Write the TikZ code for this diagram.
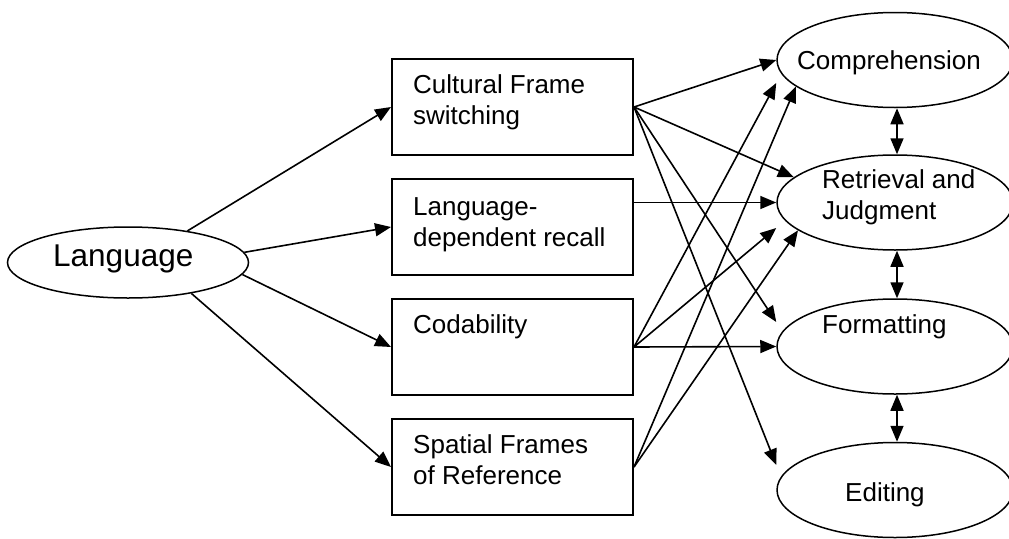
\documentclass[tikz,border=0pt]{standalone}
\usepackage{fontspec}
\setmainfont{Liberation Sans}
\usetikzlibrary{shapes.geometric,arrows.meta}
\begin{document}
\begin{tikzpicture}[x=1pt,y=-1pt,
        box/.style={draw,line width=2pt,minimum width=241pt,minimum height=96pt,inner sep=0pt},
        oval/.style={draw,ellipse,line width=1.5pt,minimum width=236pt,minimum height=95pt,inner sep=0pt},
        lbl/.style={font=\fontsize{26}{31}\selectfont,inner sep=0pt,anchor=north west,align=left},
        arr/.style={line width=1.6pt,-{Triangle[length=16pt,width=13pt]}},
        dbl/.style={line width=1.6pt,{Triangle[length=16pt,width=13pt]}-{Triangle[length=16pt,width=13pt]}}]
        \useasboundingbox (0,0) rectangle (1009,538);
        %% language
        \node[draw,ellipse,line width=1.5pt,minimum width=241pt,minimum height=71pt,inner sep=0pt] (lang) at (128,262.5) {};
        \node[font=\fontsize{31.5}{36}\selectfont,inner sep=0pt,anchor=base west] (lang-t) at (53,266) {Language};
        %% boxes
        \node[box] (cfs) at (512.5,107) {};
        \node[box] (ldr) at (512.5,227) {};
        \node[box] (cod) at (512.5,347) {};
        \node[box] (sfr) at (512.5,467) {};
        \node[lbl] (cfs-t) at (413,71.3) {\strut Cultural Frame\\switching};
        \node[lbl] (ldr-t) at (413,193.3) {\strut Language-\\dependent recall};
        \node[lbl] (cod-t) at (413,311.3) {\strut Codability};
        \node[lbl] (sfr-t) at (413,431.3) {\strut Spatial Frames\\of Reference};
        %% stages
        \node[oval] (comp) at (895,60) {};
        \node[oval] (rj) at (895,202.5) {};
        \node[oval] (fmt) at (895,346.5) {};
        \node[oval] (edit) at (895,490) {};
        \node[lbl] (comp-t) at (797,47.3) {\strut Comprehension};
        \node[lbl] (rj-t) at (822,166.3) {\strut Retrieval and\\Judgment};
        \node[lbl] (fmt-t) at (822,311.3) {\strut Formatting};
        \node[lbl] (edit-t) at (845,479.3) {\strut Editing};
        %% arrows
        \foreach \a/\b in {28/cfs,5/ldr,354/cod,334/sfr} \draw[arr] (lang.\a) -- (\b.west);
        \draw[arr] (cfs.east) -- (comp.west);
        \draw[arr] (cfs.east) -- (rj.166);
        \draw[arr] (cfs.east) -- ([yshift=24.5pt]fmt.west);
        \draw[arr] (cfs.east) -- ([yshift=25pt]edit.west);
        \draw[arr] (ldr.east |- rj.west) -- (rj.west);
        \draw[arr] (cod.east) -- ([yshift=-23pt]comp.west);
        \draw[arr] (cod.east) -- ([yshift=-25.5pt]rj.west);
        \draw[arr] (cod.east) -- (fmt.west);
        \draw[arr] (sfr.east) -- (comp.195);
        \draw[arr] (sfr.east) -- (rj.196);
        \draw[dbl] ([xshift=2pt]comp.south) -- ([xshift=2pt]rj.north);
        \draw[dbl] ([xshift=2pt]rj.south) -- ([xshift=2pt]fmt.north);
        \draw[dbl] ([xshift=2pt]fmt.south) -- ([xshift=2pt]edit.north);
    \end{tikzpicture}
\end{document}
